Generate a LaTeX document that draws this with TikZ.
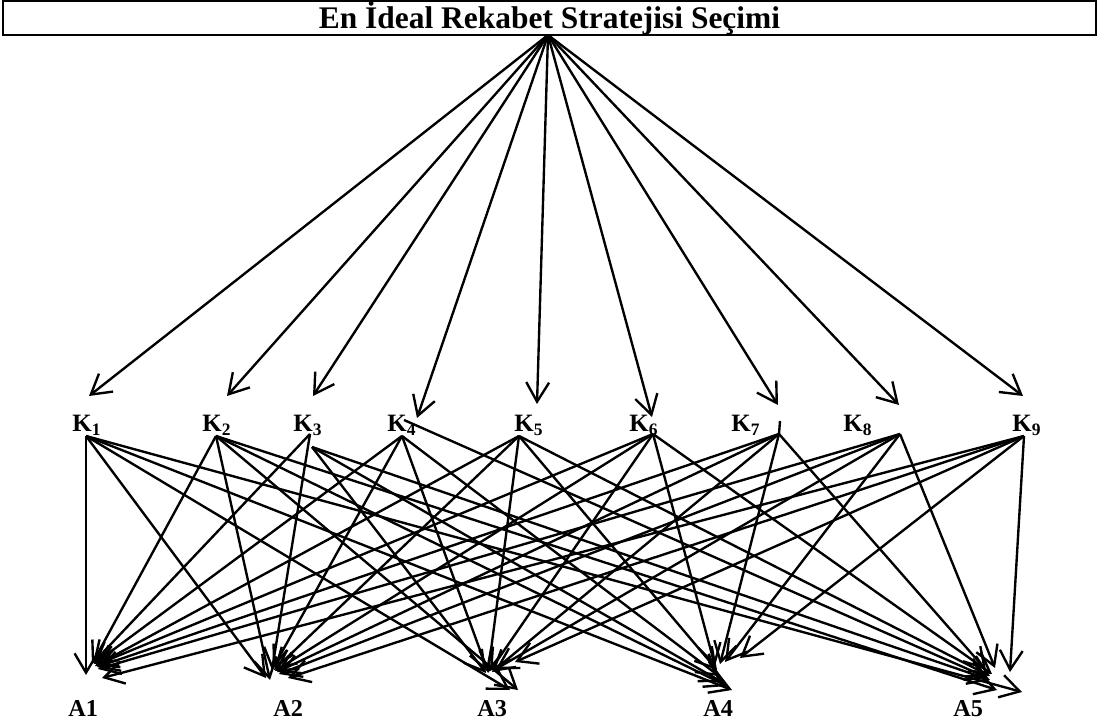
\documentclass[tikz,border=0pt]{standalone}
\usepackage{fontspec}
\setmainfont{Liberation Serif}
\usetikzlibrary{arrows.meta, calc}

\tikzset{
  crit/.style={font=\fontsize{14.2}{15}\selectfont\bfseries, inner sep=0pt, anchor=base west},
  alt/.style={font=\fontsize{13.8}{15}\selectfont\bfseries, inner sep=0pt, anchor=base west},
  link/.style={-{Straight Barb[length=11pt,width=13pt]}, line width=1.35pt},
}

\begin{document}
\begin{tikzpicture}[x=0.02cm, y=-0.02cm]
\useasboundingbox (0,0) rectangle (1099,719);

% goal
\node[draw, line width=1.35pt, minimum width=21.86cm, minimum height=0.64cm, inner sep=0pt,
      font=\fontsize{17.9}{20}\selectfont\bfseries] (goal) at (549.5,18) {En İdeal Rekabet Stratejisi Seçimi};
\coordinate (top) at (548,35);

% criteria
\node[crit] (K1) at (72,432) {K\textsubscript{1}};
\node[crit] (K2) at (202,432) {K\textsubscript{2}};
\node[crit] (K3) at (293,432) {K\textsubscript{3}};
\node[crit] (K4) at (387,432) {K\textsubscript{4}};
\node[crit] (K5) at (514,432) {K\textsubscript{5}};
\node[crit] (K6) at (629,432) {K\textsubscript{6}};
\node[crit] (K7) at (731,432) {K\textsubscript{7}};
\node[crit] (K8) at (843,432) {K\textsubscript{8}};
\node[crit] (K9) at (1012,432) {K\textsubscript{9}};

% alternatives
\node[alt] (A1) at (68,716) {A1};
\node[alt] (A2) at (273,716) {A2};
\node[alt] (A3) at (477,716) {A3};
\node[alt] (A4) at (703,716) {A4};
\node[alt] (A5) at (953,716) {A5};

% tips above the criteria
\foreach \i/\x/\y in {1/89/396, 2/227/396, 3/313/396, 4/417/418, 5/537/404, 6/652/417, 7/778/405, 8/899/405, 9/1023/396}
  \coordinate (t\i) at (\x,\y);
% start points below the criteria
\foreach \i/\x/\y in {1/86/436, 2/216/436, 3/310/434, 4/402/436, 5/519/436, 6/653/434, 7/779/434, 8/900/434, 9/1024/436}
  \coordinate (s\i) at (\x,\y);
\coordinate (s3r) at (312,447);
\coordinate (s4r) at (404,420);
\coordinate (k7x) at (780,421);
% tips above the alternatives
\foreach \j/\x/\y in {1/92/664, 2/272/670, 3/488/673, 4/717/670, 5/990/676}
  \coordinate (e\j) at (\x,\y);

% goal -> criteria
\foreach \i in {1,...,9}
  \draw[link] (top) -- (t\i);
\draw[line width=1.35pt] (k7x) -- (s7);

% criteria -> alternatives
\foreach \s/\j/\dx/\dy in {
  s1/1/-6/11, s1/2/-6/8, s1/3/22/17, s1/4/15/20, s1/5/32/16,
  s2/1/0/0, s2/2/-2/10, s2/3/30/17, s2/4/10/16, s2/5/7/14,
  s3/1/1/-1, s3/2/0/0, s3r/3/-2/0, s3r/4/5/12, s3r/5/0/4,
  s4/1/2/0, s4/2/1/-2, s4/3/0/-1, s4/4/2/6, s4r/5/-2/2,
  s5/1/3/2, s5/2/2/0, s5/3/0/0, s5/4/0/0, s5/5/0/0,
  s6/1/4/1, s6/2/3/1, s6/3/2/-2, s6/4/-2/-4, s6/5/2/-2,
  s7/1/5/3, s7/2/5/2, s7/3/4/-1, s7/4/3/-6, s7/5/-4/-6,
  s8/1/6/5, s8/2/7/4, s8/3/8/-4, s8/4/8/-8, s8/5/5/-8,
  s9/1/10/14, s9/2/16/8, s9/3/27/-11, s9/4/23/-12, s9/5/20/-4}
  \draw[link] (\s) -- ($(e\j)+(\dx,\dy)$);
\end{tikzpicture}
\end{document}
